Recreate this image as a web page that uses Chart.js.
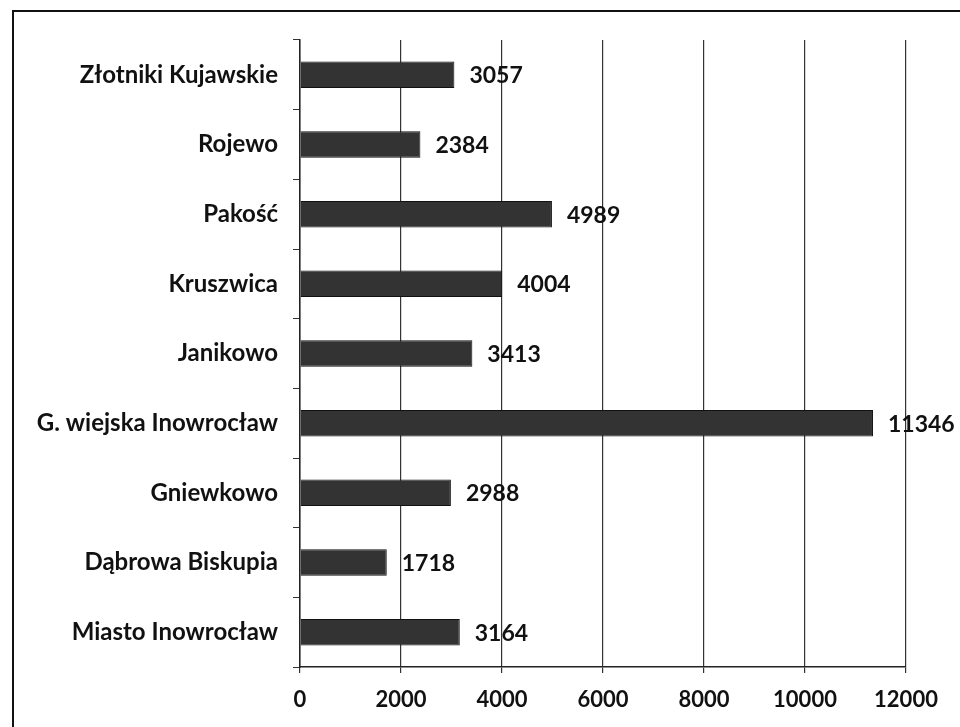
<!DOCTYPE html>
<html>
<head>
<meta charset="utf-8">
<script src="https://cdn.jsdelivr.net/npm/chart.js@4.4.1/dist/chart.umd.min.js"></script>
<style>
  html, body { margin: 0; padding: 0; background: #fff; }
  #wrap { position: relative; width: 960px; height: 727px; }
</style>
</head>
<body>
<div id="wrap"><canvas id="gminyChart" width="960" height="727"></canvas></div>
<script>
// gminy powiatu inowrocławskiego
const gminy = [
  "Złotniki Kujawskie",
  "Rojewo",
  "Pakość",
  "Kruszwica",
  "Janikowo",
  "G. wiejska Inowrocław",
  "Gniewkowo",
  "Dąbrowa Biskupia",
  "Miasto Inowrocław"
];
const wartosci = [3057, 2384, 4989, 4004, 3413, 11346, 2988, 1718, 3164];
const osX = [0, 2000, 4000, 6000, 8000, 10000, 12000];

const fontRodzina = "Lato, 'Open Sans', sans-serif";

// ramka i białe tło
const ramka = {
  id: "ramka",
  beforeDraw(chart) {
    const ctx = chart.ctx;
    ctx.save();
    ctx.fillStyle = "#fff";
    ctx.fillRect(0, 0, chart.width, chart.height);
    ctx.restore();
  },
  afterDraw(chart) {
    const ctx = chart.ctx;
    ctx.save();
    ctx.strokeStyle = "#111";
    ctx.lineWidth = 2;
    ctx.beginPath();
    ctx.moveTo(13, chart.height);
    ctx.lineTo(13, 11);
    ctx.lineTo(chart.width, 11);
    ctx.stroke();
    ctx.restore();
  }
};

// liczby obok słupków
const etykiety = {
  id: "etykiety",
  afterDatasetsDraw(chart) {
    const ctx = chart.ctx;
    const meta = chart.getDatasetMeta(0);
    ctx.save();
    ctx.font = "bold 23px " + fontRodzina;
    ctx.fillStyle = "#111";
    ctx.textBaseline = "middle";
    ctx.textAlign = "left";
    meta.data.forEach((bar, i) => {
      ctx.fillText(String(wartosci[i]), bar.x + 15, bar.y + 1);
    });
    ctx.restore();
  }
};

new Chart(document.getElementById("gminyChart"), {
  type: "bar",
  data: {
    labels: gminy,
    datasets: [{
      data: wartosci,
      backgroundColor: "#333",
      borderColor: "#111",
      borderWidth: 1,
      barPercentage: 0.38,
      categoryPercentage: 1
    }]
  },
  options: {
    indexAxis: "y",
    responsive: false,
    animation: false,
    layout: { padding: { top: 40, right: 54, bottom: 0, left: 0 } },
    plugins: {
      legend: { display: false },
      tooltip: { enabled: false }
    },
    scales: {
      x: {
        min: 0,
        max: 12000,
        afterBuildTicks(scale) {
          scale.ticks = osX.map(v => ({ value: v }));
        },
        afterFit(scale) { scale.height = 60; },
        grid: { color: "#333", lineWidth: 1.2, tickLength: 6 },
        border: { color: "#222", width: 1.5 },
        ticks: {
          color: "#111",
          padding: 14,
          maxRotation: 0,
          callback: v => String(v),
          font: { family: fontRodzina, size: 22, weight: "bold" }
        }
      },
      y: {
        afterFit(scale) { scale.width = 300; },
        grid: {
          offset: true,
          drawOnChartArea: false,
          color: "#333",
          tickLength: 7
        },
        border: { color: "#222", width: 1.5 },
        ticks: {
          color: "#111",
          padding: 15,
          font: { family: fontRodzina, size: 24, weight: "bold" }
        }
      }
    }
  },
  plugins: [ramka, etykiety]
});
</script>
</body>
</html>
